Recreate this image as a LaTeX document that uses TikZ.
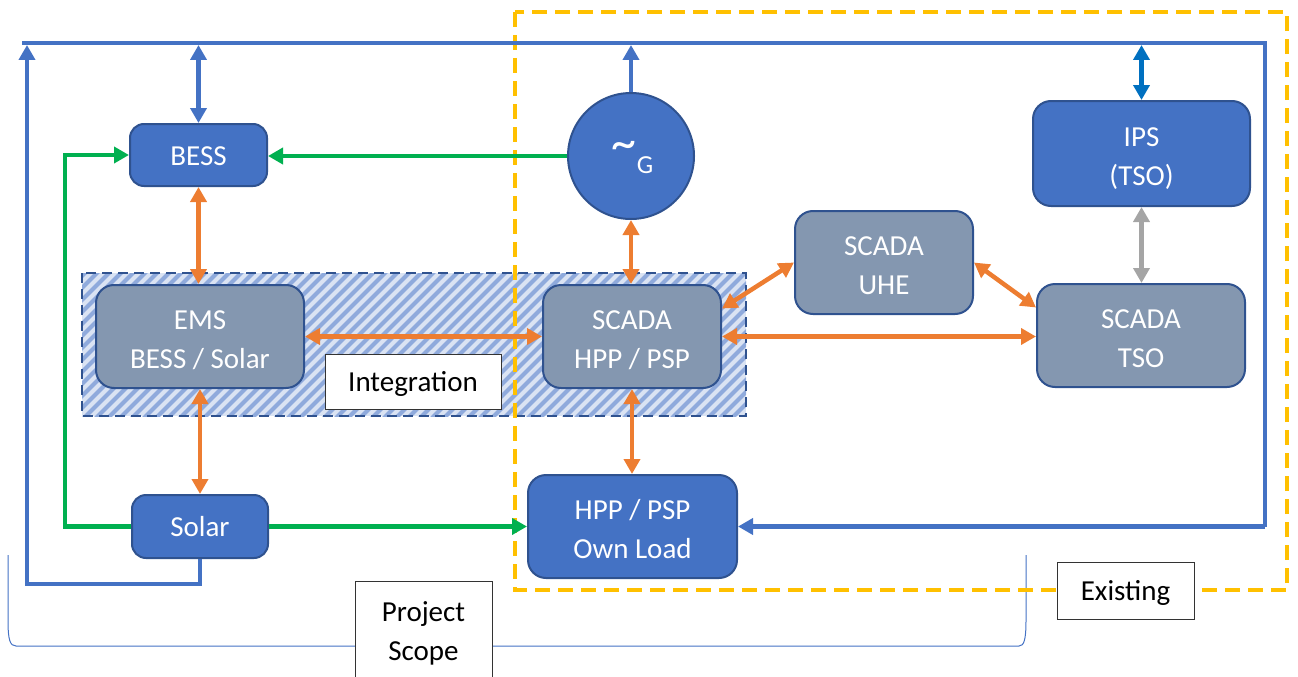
\documentclass[tikz,border=0pt]{standalone}
\usepackage{fontspec}
\setmainfont{Carlito}
\usetikzlibrary{arrows.meta}

\definecolor{boxblue}{HTML}{4472C4}
\definecolor{edgeblue}{HTML}{2F528F}
\definecolor{boxgrey}{HTML}{8497B0}
\definecolor{linkorange}{HTML}{ED7D31}
\definecolor{linkgreen}{HTML}{00B050}
\definecolor{scopeyellow}{HTML}{FFC000}
\definecolor{linkgrey}{HTML}{A5A5A5}
\definecolor{gridblue}{HTML}{0070C0}
\definecolor{hatchbg}{HTML}{DAE3F3}
\definecolor{hatchfg}{HTML}{8FAADC}

\tikzset{
  unit/.style={draw=edgeblue, line width=2pt, rounded corners=14pt,
    text=white, align=center, font=\fontsize{29}{39}\selectfont, inner sep=0pt},
  oneline/.style={text height=20pt, text depth=0pt},
  twoline/.style={rounded corners=18pt, text height=64pt, text depth=0pt},
  bluebox/.style={unit, fill=boxblue},
  greybox/.style={unit, fill=boxgrey},
  labelbox/.style={draw=black!80, line width=1pt, fill=white, text=black,
    align=center, font=\fontsize{29}{39}\selectfont, inner sep=0pt},
  bus/.style={draw=boxblue, line width=4.5pt},
  blueflow/.style={bus, -{Triangle[length=15pt, width=16pt]}},
  bluelink/.style={bus, {Triangle[length=15pt, width=16pt]}-{Triangle[length=15pt, width=16pt]}},
  gridlink/.style={draw=gridblue, line width=4.5pt, {Triangle[length=15pt, width=16pt]}-{Triangle[length=15pt, width=16pt]}},
  datalink/.style={draw=linkorange, line width=4.5pt, {Triangle[length=15pt, width=16pt]}-{Triangle[length=15pt, width=16pt]}},
  greylink/.style={draw=linkgrey, line width=4.5pt, {Triangle[length=15pt, width=16pt]}-{Triangle[length=15pt, width=16pt]}},
  greenflow/.style={draw=linkgreen, line width=4.5pt, -{Triangle[length=15pt, width=16pt]}},
}

\begin{document}
\begin{tikzpicture}[x=1pt, y=-1pt]
\useasboundingbox (0,0) rectangle (1298,677);

% project scope bracket
\draw[boxblue, line width=1pt]
  (8,555) -- (8,620) .. controls (8,640) and (10,646) .. (16,646)
  -- (1019,646) .. controls (1024,646) and (1026,640) .. (1026,620) -- (1026,555);

% hatched integration band
\fill[hatchbg] (82,273) rectangle (746,416);
\begin{scope}
  \clip (82,273) rectangle (746,416);
  \foreach \k in {-20,...,75}
    \draw[hatchfg, line width=4pt] (\k*12, 430) -- ++(170,-170);
\end{scope}
\draw[edgeblue, line width=2.5pt, dash pattern=on 10pt off 6pt] (82,273) rectangle (746,416);

% existing-plant boundary
\draw[scopeyellow, line width=4pt, dash pattern=on 15pt off 8pt] (515,12) rectangle (1287,590);

% units
\node[bluebox, oneline, minimum width=137pt, minimum height=62pt] (bess) at (198.5,155) {BESS};
\node[greybox, twoline, minimum width=208pt, minimum height=103pt] (ems) at (200,336.5) {EMS\\BESS / Solar};
\node[greybox, twoline, minimum width=178pt, minimum height=103pt] (scada) at (632,336.5) {SCADA\\HPP / PSP};
\node[greybox, twoline, minimum width=178pt, minimum height=103pt] (uhe) at (884,262.5) {SCADA\\UHE};
\node[greybox, twoline, minimum width=208pt, minimum height=103pt] (tso) at (1141,335.5) {SCADA\\TSO};
\node[bluebox, twoline, minimum width=217pt, minimum height=105pt] (ips) at (1141.5,153.5) {IPS\\(TSO)};
\node[bluebox, twoline, minimum width=209pt, minimum height=103pt] (load) at (632.5,526.5) {HPP / PSP\\Own Load};
\node[bluebox, oneline, minimum width=136pt, minimum height=63pt] (solar) at (200,526.5) {Solar};
\node[circle, draw=edgeblue, line width=2pt, fill=boxblue, minimum size=126pt, inner sep=0pt] (gen) at (631,156) {};
\node[text=white, inner sep=0pt, font=\fontsize{50}{50}\selectfont] (wave) at (624,150) {\textasciitilde};
\node[text=white, inner sep=0pt, font=\fontsize{26}{26}\selectfont] (gsub) at (645,165) {G};

% labels
\node[labelbox, oneline, minimum width=176pt, minimum height=55pt] (integ) at (413,381.5) {Integration};
\node[labelbox, oneline, minimum width=137pt, minimum height=57pt] (exist) at (1125.5,590.5) {Existing};
\node[labelbox, minimum width=137pt, minimum height=104pt] (scope) at (423.5,633) {Project\\Scope};

% power bus
\coordinate (busL) at (22,43);
\coordinate (busR) at (1265,43);
\coordinate (busD) at (1265,526.5);
\coordinate (retL) at (27,584);
\coordinate (retT) at (27,45);
\draw[bus] (busL) -- (busR) -- (busD);
\draw[blueflow] (busD) -- (load.east);
\draw[blueflow] (solar.south) |- (retL) -- (retT);
\draw[bluelink] (bess.north |- retT) -- (bess.north);
\draw[blueflow] (gen.north) -- (gen.north |- retT);
\draw[gridlink] (ips.north |- retT) -- (ips.north);

% green energy flows
\coordinate (gL) at (65,526.5);
\draw[greenflow] (gen.west) -- (gen.west -| bess.east);
\draw[greenflow] (solar.west) -- (gL) |- (bess.west);
\draw[greenflow] (solar.east) -- (load.west);

% data links
\draw[datalink] (bess.south) -- (bess.south |- ems.north);
\draw[datalink] (ems.south) -- (ems.south |- solar.north);
\draw[datalink] (ems.east) -- (scada.west);
\draw[datalink] (gen.south) -- (gen.south |- scada.north);
\draw[datalink] (scada.south) -- (scada.south |- load.north);
\draw[datalink] ([yshift=28pt]scada.east) -- (uhe.west);
\draw[datalink] (uhe.east) -- ([yshift=28pt]tso.west);
\draw[datalink] (scada.east) -- (scada.east -| tso.west);
\draw[greylink] (ips.south) -- (ips.south |- tso.north);
\end{tikzpicture}
\end{document}
